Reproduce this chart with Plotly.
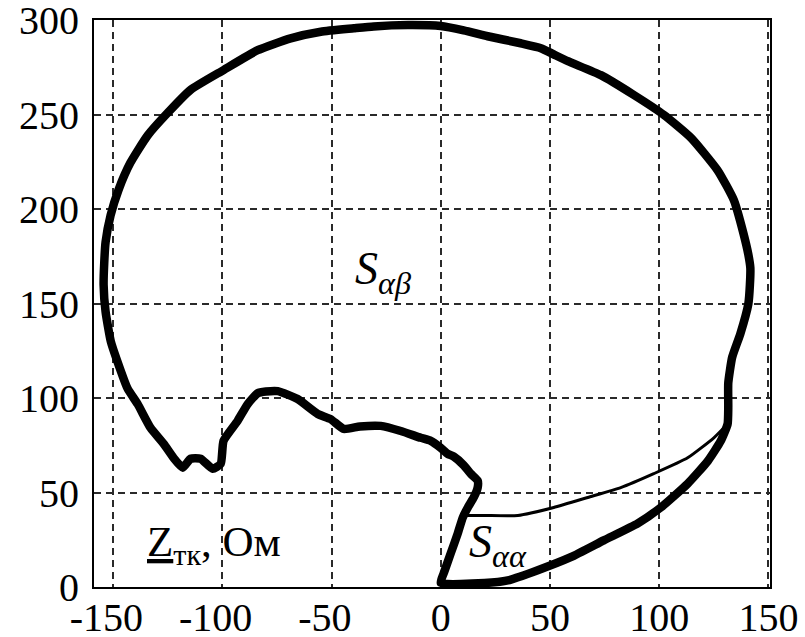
import plotly.graph_objects as go

# Thick closed hodograph curve (Ohm)
main_x = [0, 1.4, 4.6, 7.8, 10.1, 12.4, 15.1, 16.9, 16.9, 13.7, 10.5, 6.0, 3.2, 0, -4.6, -9.2,
          -18.3, -27.5, -37.0, -44.4, -50.4, -56.3, -65.5, -74.6, -80.0, -83.8, -88.4, -93.0,
          -99.4, -100.7, -104.4, -109.9, -114.5, -118.1, -122.3, -126.8, -132.8, -138.7,
          -143.3, -148.0, -151.0, -153.4, -154.3, -154.0, -153.4, -151.1, -147.4, -142.0,
          -134.2, -125.0, -114.5, -99.4, -83.8, -68.7, -54.9, -39.8, -30.7, -15.0, 0, 10.5,
          21.5, 36.6, 45.8, 51.7, 58.2, 73.3, 88.4, 102.1, 114.5, 126.8, 134.2, 138.6, 140.8,
          141.7, 141.5, 140.8, 137.1, 133.4, 131.6, 131.6, 131.3, 128.2, 122.3, 113.0, 100.7, 90.2,
          74.6, 59.5, 44.4, 30.7, 20.0, 0]
main_y = [2.1, 7.4, 17.9, 28.4, 36.8, 42.1, 47.4, 52.6, 56.3, 60.0, 64.5, 69.0, 70.5, 73.7, 77.4, 79.0,
          82.6, 85.3, 85.0, 83.7, 88.9, 91.6, 99.5, 103.7, 103.5, 102.6, 96.8, 87.9,
          77.4, 65.3, 62.6, 67.9, 67.9, 63.2, 68.4, 75.8, 84.2, 96.8,
          105.0, 119.5, 130.0, 145.8, 160.0, 172.0, 182.6, 196.8, 210.5, 224.7,
          239.0, 251.0, 263.2, 273.7, 284.2, 290.5, 294.0, 295.8, 296.8, 297.5, 297.0, 294.7,
          291.6, 287.9, 285.3, 282.0, 278.4, 271.0, 260.5, 250.0, 237.9, 220.5, 204.7, 187.0, 176.0,
          169.0, 160.0, 150.0, 134.0, 121.7, 108.0, 95.0, 86.3, 77.4, 66.8, 54.7, 42.1, 33.7,
          24.7, 15.8, 8.9, 3.5, 2.1, 2.1]

# Thin curve closing S_aa
thin_x = [10.1, 20.0, 35.3, 51.7, 67.3, 82.4, 97.5, 113.0, 125.0, 131.3]
thin_y = [37.9, 37.9, 37.9, 42.1, 47.4, 52.6, 60.0, 68.4, 79.0, 86.3]

x_ticks = [-150, -100, -50, 0, 50, 100, 150]
x_tick_text = ["-150\u2004", "-100\u2004", "-50\u2004", "0", "50", "100", "150"]
y_ticks = [0, 50, 100, 150, 200, 250, 300]
y_tick_text = ["0", "50", "100", "150", "200", "250", "300"]

fig = go.Figure()
fig.add_trace(go.Scatter(x=main_x, y=main_y, mode="lines",
                         line=dict(color="black", width=8.5, shape="spline", smoothing=0.5),
                         hoverinfo="skip"))
fig.add_trace(go.Scatter(x=thin_x, y=thin_y, mode="lines",
                         line=dict(color="black", width=3, shape="spline", smoothing=0.5),
                         hoverinfo="skip"))

serif = "Liberation Serif"
ann = dict(xref="x", yref="y", showarrow=False, font=dict(family=serif, size=46, color="black"))
fig.add_annotation(x=-26.4, y=167, text="<i>S<sub>αβ</sub></i>", **ann)
fig.add_annotation(x=26.3, y=22.5, text="<i>S<sub>αα</sub></i>", **ann)
fig.add_annotation(x=-104.0, y=22.5, text="<u>Z</u><sub>тк</sub>, Ом",
                   xref="x", yref="y", showarrow=False,
                   font=dict(family=serif, size=43, color="black"))

axis_common = dict(showline=True, mirror=True, linecolor="black", linewidth=2,
                   showgrid=True, gridcolor="#2a2a2a", gridwidth=2, griddash="7px,5px",
                   zeroline=False, ticks="", automargin=False, ticklabeloverflow="allow",
                   tickfont=dict(family=serif, size=40, color="black"))
fig.update_xaxes(range=[-158.7, 150.7], tickvals=x_ticks, ticktext=x_tick_text,
                 ticklabelstandoff=-6, **axis_common)
fig.update_yaxes(range=[0, 300.2], tickvals=y_ticks, ticktext=y_tick_text,
                 ticklabelstandoff=5, **axis_common)
fig.update_layout(width=805, height=637, margin=dict(l=94, r=35, t=20, b=50),
                  paper_bgcolor="white", plot_bgcolor="white", showlegend=False)
fig.write_html("out.html")
